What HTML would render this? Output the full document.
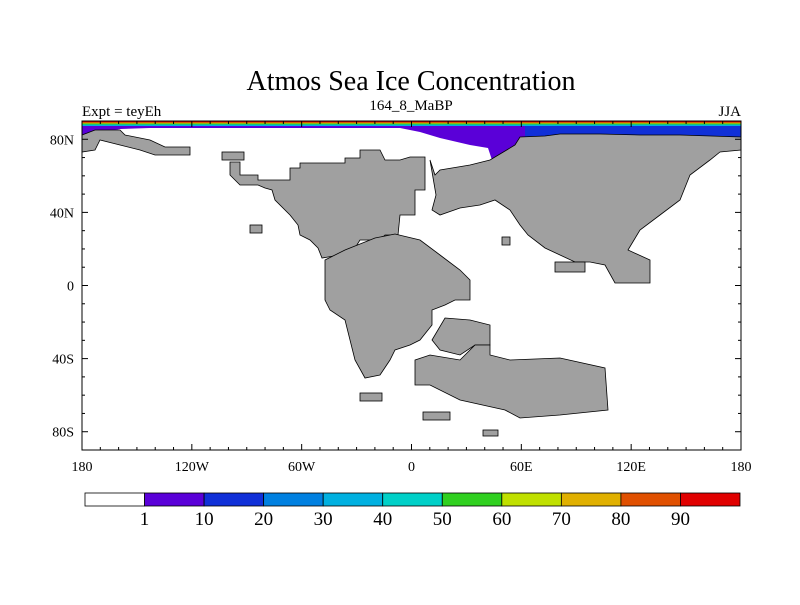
<!DOCTYPE html>
<html><head><meta charset="utf-8"><style>
body{margin:0;background:#fff;font-family:"Liberation Serif",serif}
svg text{font-family:"Liberation Serif",serif}
</style></head><body>
<svg width="800" height="600" xmlns="http://www.w3.org/2000/svg">
<text x="411" y="90" font-size="28" text-anchor="middle">Atmos Sea Ice Concentration</text>
<text x="82" y="116" font-size="15">Expt = teyEh</text>
<text x="411" y="110" font-size="15" text-anchor="middle">164_8_MaBP</text>
<text x="741" y="116" font-size="15" text-anchor="end">JJA</text>
<g id="map">
<path fill="#5a00d8" d="M82,124 L530,124 L530,140 L520,150 L510,158 L492,160 L488,148 L470,145 L440,138 L420,132 L400,128 L150,128 L120,129 L105,132 L95,140 L90,148 L82,152 Z"/>
<path fill="#1030d8" d="M525,124 L741,124 L741,137 L525,137 Z"/>
<rect x="82" y="121" width="659" height="1.5" fill="#e00000"/>
<rect x="82" y="122.5" width="659" height="1" fill="#e0b000"/>
<rect x="82" y="123.5" width="659" height="1" fill="#30d020"/>
<rect x="82" y="124.5" width="659" height="1.5" fill="#00b0e0"/>
<g fill="#a0a0a0" stroke="#000" stroke-width="0.8">
<path d="M82,135 L95,130 L120,130 L125,135 L150,140 L165,147 L190,147 L190,155 L155,155 L140,150 L120,145 L100,140 L95,150 L82,152 Z"/>
<path d="M230,162 L240,162 L240,175 L258,175 L258,180 L290,180 L290,168 L300,168 L300,163 L345,163 L345,158 L360,158 L360,150 L380,150 L385,160 L400,160 L410,157 L425,157 L425,190 L415,190 L415,215 L400,215 L398,235 L385,235 L380,240 L360,240 L355,248 L340,255 L322,258 L318,248 L310,240 L300,235 L298,225 L290,215 L275,200 L272,190 L265,188 L258,185 L240,185 L230,175 Z"/>
<path d="M325,260 L345,250 L375,238 L395,234 L420,240 L440,255 L460,270 L470,280 L470,300 L455,300 L445,305 L432,310 L432,325 L420,340 L410,345 L395,350 L390,360 L380,375 L365,378 L355,360 L350,340 L345,320 L330,310 L325,300 Z"/>
<path d="M430,160 L435,175 L440,170 L470,165 L490,160 L515,145 L520,137 L545,136 L560,134 L600,134 L640,135 L680,135 L741,137 L741,150 L720,152 L710,160 L690,175 L680,200 L660,215 L640,230 L628,250 L650,260 L650,283 L615,283 L605,265 L590,262 L575,262 L560,255 L545,248 L528,235 L520,225 L510,210 L495,200 L480,205 L460,208 L440,215 L432,210 L436,195 Z"/>
<path d="M445,318 L470,320 L490,325 L490,345 L475,345 L460,355 L440,350 L432,340 Z"/>
<path d="M415,360 L430,355 L460,360 L475,345 L490,345 L490,355 L510,360 L560,358 L605,368 L608,410 L560,415 L520,418 L505,410 L460,400 L430,385 L415,385 Z"/>
<rect x="222" y="152" width="22" height="8"/><rect x="360" y="393" width="22" height="8"/>
<rect x="423" y="412" width="27" height="8"/><rect x="483" y="430" width="15" height="6"/>
<rect x="250" y="225" width="12" height="8"/><rect x="502" y="237" width="8" height="8"/>
<rect x="555" y="262" width="30" height="10"/>
</g>
<rect x="82" y="121" width="659" height="329" fill="none" stroke="#000" stroke-width="1"/>
</g>
<g id="axes" font-size="14"></g>
<g id="cbar"></g>
</svg>
<script>
const lonTicks=[-180,-120,-60,0,60,120,180];
const lonLabels=["180","120W","60W","0","60E","120E","180"];
const latTicks=[80,40,0,-40,-80];
const latLabels=["80N","40N","0","40S","80S"];
const cbColors=["#ffffff","#5a00d8","#1030d8","#0080e0","#00b0e0","#00d0c8","#30d020","#c0e000","#e0b000","#e05000","#e00000"];
const cbLabels=["1","10","20","30","40","50","60","70","80","90"];
const NS="http://www.w3.org/2000/svg";
const X=l=>82+(l+180)*659/360, Y=la=>121+(90-la)*329/180;
const ax=document.getElementById('axes');
function mk(t,a,p){const e=document.createElementNS(NS,t);for(const k in a)e.setAttribute(k,a[k]);p.appendChild(e);return e;}
for(let l=-180;l<=180;l+=10){const big=l%60===0;
 const t1=mk('line',{x1:X(l),x2:X(l),y1:450,y2:450-(big?6:3),stroke:'#000'},ax);
 
 const t2=mk('line',{x1:X(l),x2:X(l),y1:121,y2:121+(big?6:3),stroke:'#000'},ax);
 }
for(let la=-90;la<=90;la+=10){const big=la%40===0;
 const t1=mk('line',{x1:82,x2:82+(big?6:3),y1:Y(la),y2:Y(la),stroke:'#000'},ax);
 
 const t2=mk('line',{x1:741,x2:741-(big?6:3),y1:Y(la),y2:Y(la),stroke:'#000'},ax);
 }
lonTicks.forEach((l,i)=>{const t=mk('text',{x:X(l),y:471,'text-anchor':'middle'},ax);t.textContent=lonLabels[i];
 });
latTicks.forEach((la,i)=>{const t=mk('text',{x:74,y:Y(la)+5,'text-anchor':'end'},ax);t.textContent=latLabels[i];
 });
const cb=document.getElementById('cbar');const x0=85,w=(740-85)/cbColors.length;
cbColors.forEach((c,i)=>{const r=mk('rect',{x:x0+i*w,y:493,width:w,height:13,fill:c,stroke:'#000','stroke-width':0.8},cb);
 });
cbLabels.forEach((s,i)=>{const t=mk('text',{x:x0+(i+1)*w,y:525,'text-anchor':'middle','font-size':19},cb);t.textContent=s;
 });
</script>
</body></html>
